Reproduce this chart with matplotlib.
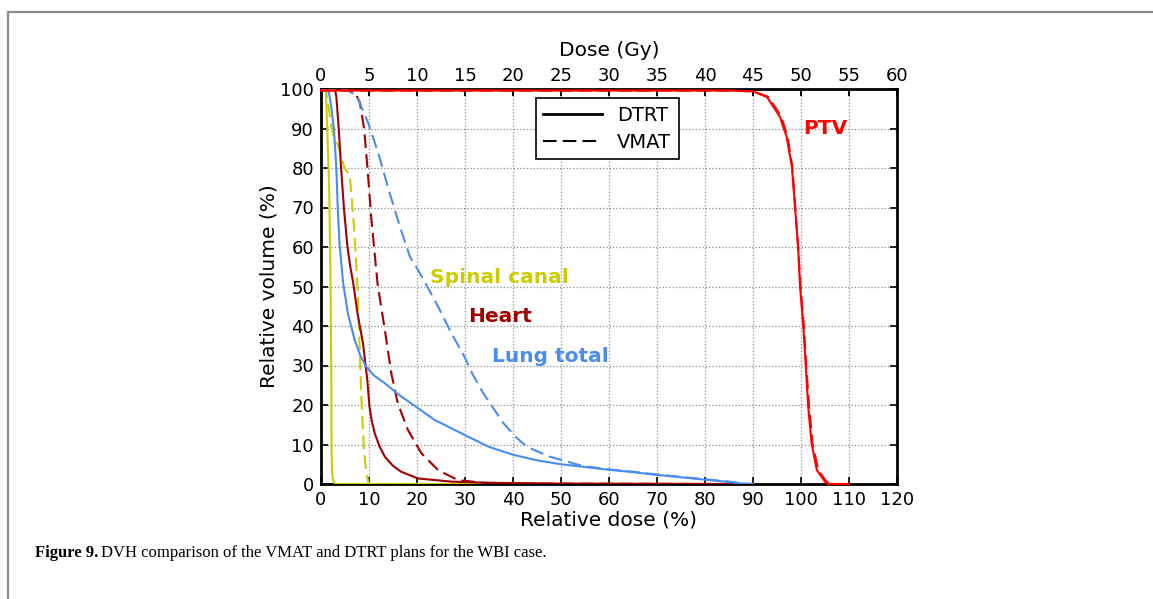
import numpy as np
import matplotlib
matplotlib.use("Agg")
import matplotlib.pyplot as plt
from matplotlib.patches import Rectangle

# ------------------------------------------------------------------
# DVH data: relative dose (%) vs relative volume (%)
# ------------------------------------------------------------------
spinal_dtrt_x = [0, 1.0, 1.3, 1.7, 2.0, 2.15, 2.2, 2.3, 2.5, 2.8, 3.2, 60]
spinal_dtrt_y = [100, 100, 90, 75, 50, 25, 8, 3, 1, 0.3, 0, 0]

spinal_vmat_x = [0, 1.0, 1.5, 2.3, 2.8, 3.5, 4.2, 4.9, 6.0, 6.3, 6.7, 7.0, 7.6, 8.05, 8.4, 8.9, 9.3, 9.6, 9.9, 10.3, 60]
spinal_vmat_y = [100, 100, 96, 89.8, 87, 86, 83, 80, 78, 73.7, 68, 62.7, 50, 34.8, 22, 9.5, 4.5, 1.9, 0.3, 0, 0]

heart_dtrt_x = [0, 2.9, 3.2, 3.7, 4.2, 4.8, 5.5, 6.1, 6.7, 7.6, 8.75, 9.65, 10.1, 10.6, 11.2, 12.2, 13.3, 15, 16.7, 20.2, 27.2, 35, 50, 85]
heart_dtrt_y = [100, 100, 98, 89.8, 79.7, 69.5, 60.2, 55, 51, 43.2, 35.6, 26.3, 19.6, 15.8, 12.8, 9.5, 6.9, 4.6, 3.1, 1.4, 0.6, 0.3, 0.1, 0]

heart_vmat_x = [0, 6.5, 6.9, 8.1, 9.0, 9.7, 10.5, 11.3, 11.8, 13.3, 14.65, 16.0, 18.1, 20.9, 24.4, 28.5, 33.8, 45, 85]
heart_vmat_y = [100, 100, 99.5, 96.6, 89.8, 79.7, 67, 56.8, 50.5, 39, 28, 20.4, 13.7, 7.8, 3.5, 1.0, 0.3, 0.1, 0]

lung_dtrt_x = [0, 1.5, 1.8, 2.2, 2.7, 3.2, 3.5, 3.9, 4.6, 5.6, 7.0, 8.2, 9.4, 11, 13.3, 16, 18.8, 23.7, 30.6, 35, 40, 45, 50, 55, 60, 65, 70, 75, 80, 85, 88, 90]
lung_dtrt_y = [100, 100, 98, 95, 89.8, 79.7, 69.5, 60.2, 51, 43.2, 36.5, 32.5, 29.7, 27.5, 25.5, 22.8, 20.4, 16.2, 12.0, 9.4, 7.4, 6.0, 5.0, 4.3, 3.6, 3.0, 2.3, 1.7, 1.1, 0.5, 0.1, 0]

lung_vmat_x = [0, 4.5, 5.3, 6.5, 7.7, 9.8, 11.9, 14.3, 16.4, 18.5, 20.2, 21.6, 24.4, 27.2, 29.9, 31.5, 33.8, 36, 38, 40.5, 42.9, 47.7, 54.7, 60, 65, 70, 75, 80, 85, 88, 90]
lung_vmat_y = [100, 100, 99.8, 99, 97.5, 91.5, 83.9, 73.7, 65.3, 57.6, 54.2, 51.2, 44.9, 38.1, 32.2, 28, 23, 19, 15.4, 12, 9.4, 6.9, 4.5, 3.7, 3.1, 2.4, 1.8, 1.2, 0.6, 0.1, 0]

ptv_dtrt_x = [0, 85, 90, 92.9, 95.6, 97, 98.1, 98.75, 99.4, 99.8, 100.5, 101, 101.5, 102.2, 103.3, 105, 105.6, 110]
ptv_dtrt_y = [99.6, 99.6, 99.4, 98, 93, 87.9, 80.3, 70.2, 60, 50, 39.8, 29.7, 19.6, 10.3, 3.5, 0.6, 0, 0]

ptv_vmat_x = [0, 85, 90, 93.2, 95.9, 97.2, 98.2, 98.8, 99.4, 99.9, 100.6, 101.1, 101.7, 102.4, 103.6, 105.3, 106, 110]
ptv_vmat_y = [99.6, 99.6, 99.4, 98, 93, 87.9, 80.3, 70.2, 60, 50, 39.8, 29.7, 19.6, 10.3, 3.5, 0.6, 0, 0]

# structure labels
labels = ["Spinal canal", "Heart", "Lung total", "PTV"]
label_x = [22.7, 30.6, 35.6, 100.4]
label_y = [52.4, 42.3, 32.4, 90.1]

c_spinal = "#cccc00"
c_heart = "#a00000"
c_lung = "#4a8cf0"
c_ptv = "#ff0000"

prescription_gy = 50.0  # 100 % = 50 Gy

plt.rcParams["font.family"] = ["DejaVu Sans"]

fig = plt.figure(figsize=(11.53, 5.99), dpi=100)
ax = fig.add_axes([321 / 1153, 115 / 599, 576 / 1153, 395 / 599])

# top axis in Gy (main axes is drawn over it)
ax2 = ax.twiny()
ax2.set_xlim(0, 120 * prescription_gy / 100)
ax2.set_xticks(np.arange(0, 61, 5))
ax2.tick_params(direction="in", length=5, width=1.2, labelsize=13, pad=3)
ax2.set_xlabel("Dose (Gy)", fontsize=14.5, labelpad=8)
for s in ax2.spines.values():
    s.set_visible(False)
ax.set_zorder(ax2.get_zorder() + 1)
ax.patch.set_visible(False)

lw = 1.5
dash = (6.5, 3)

ax.plot(spinal_dtrt_x, spinal_dtrt_y, color=c_spinal, lw=lw, zorder=3)
ax.plot(spinal_vmat_x, spinal_vmat_y, color=c_spinal, lw=lw, dashes=dash, zorder=3)
ax.plot(heart_dtrt_x, heart_dtrt_y, color=c_heart, lw=lw, zorder=3)
ax.plot(heart_vmat_x, heart_vmat_y, color=c_heart, lw=lw, dashes=dash, zorder=3)
ax.plot(lung_dtrt_x, lung_dtrt_y, color=c_lung, lw=lw, zorder=3)
ax.plot(lung_vmat_x, lung_vmat_y, color=c_lung, lw=lw, dashes=dash, zorder=3)
ax.plot(ptv_vmat_x, ptv_vmat_y, color=c_ptv, lw=lw, dashes=dash, zorder=3, clip_on=False)
ax.plot(ptv_dtrt_x, ptv_dtrt_y, color=c_ptv, lw=lw, zorder=3, clip_on=False)

# legend with black proxy lines
h1, = ax.plot([], [], color="black", lw=2)
h2, = ax.plot([], [], color="black", lw=1.5, dashes=dash)
leg = ax.legend([h1, h2], ["DTRT", "VMAT"], loc="upper right",
                bbox_to_anchor=(0.6215, 0.977), borderaxespad=0, fontsize=14,
                fancybox=False, framealpha=1, edgecolor="black",
                handlelength=3.0, borderpad=0.4, labelspacing=0.4,
                handletextpad=0.8)
leg.get_frame().set_linewidth(1.2)
leg.set_zorder(5)

label_colors = [c_spinal, c_heart, c_lung, c_ptv]
for txt, x, y, c in zip(labels, label_x, label_y, label_colors):
    ax.text(x, y, txt, color=c, fontsize=14.5, fontweight="bold", va="center")

ax.set_xlim(0, 120)
ax.set_ylim(0, 100)
ax.set_xticks(np.arange(0, 121, 10))
ax.set_yticks(np.arange(0, 101, 10))
ax.grid(True, linestyle=":", color="0.55", linewidth=0.9)
ax.tick_params(direction="in", length=5, width=1.2, labelsize=13,
               top=True, right=True, labeltop=False, pad=5)
for s in ax.spines.values():
    s.set_linewidth(2)
    s.set_zorder(2.5)
ax.set_xlabel("Relative dose (%)", fontsize=14.5, labelpad=1)
ax.set_ylabel("Relative volume (%)", fontsize=14.5, labelpad=1)

# page frame
fig.patches.append(Rectangle((8 / 1153, -0.1), 1.2, (599 - 12) / 599 + 0.1,
                             transform=fig.transFigure, fill=False,
                             edgecolor="#8c8c8c", linewidth=1.6))

# caption
t1 = fig.text(35 / 1153, 1 - 553 / 599, "Figure 9.", family="Liberation Serif",
              fontweight="bold", fontsize=12, va="center")
fig.canvas.draw()
bb = t1.get_window_extent()
fig.text((bb.x1 + 3) / 1153, 1 - 553 / 599,
         "DVH comparison of the VMAT and DTRT plans for the WBI case.",
         family="Liberation Serif", fontsize=12, va="center")

fig.savefig("out.png", dpi=100)
